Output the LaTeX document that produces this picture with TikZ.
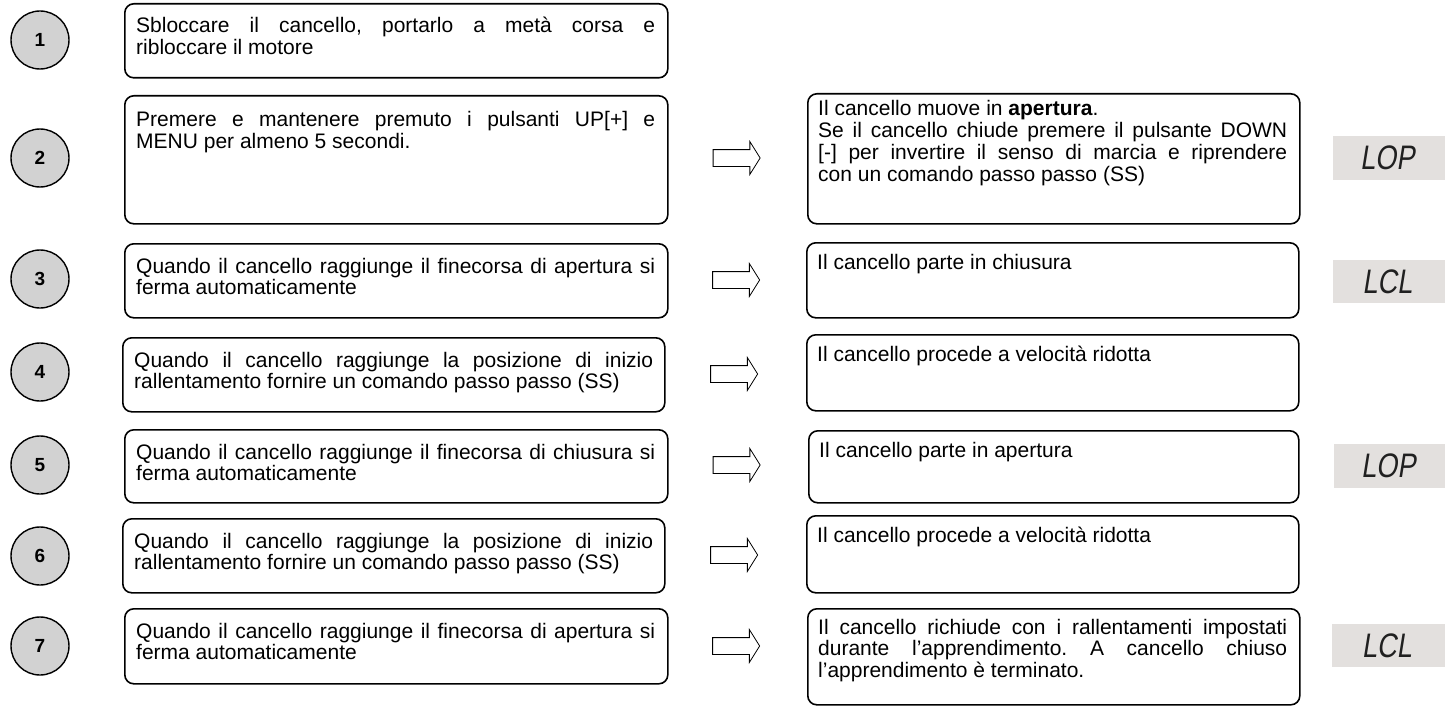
\documentclass[tikz,border=0pt]{standalone}
\usepackage{fontspec}
\setmainfont{Liberation Sans}
\newfontfamily\segfont{Liberation Sans}[FakeSlant=0.2]
\usetikzlibrary{shapes.arrows}
\definecolor{circfill}{HTML}{D2D2D2}
\definecolor{dispbg}{HTML}{E3E0DE}
\definecolor{segcol}{HTML}{202020}
\frenchspacing
\tikzset{
  stepbox/.style={draw, line width=1.6pt, rounded corners=9pt, inner sep=0pt, anchor=north west},
  numcirc/.style={circle, draw, line width=1.4pt, fill=circfill, minimum size=58pt, inner sep=0pt,
     font=\fontsize{19}{19}\selectfont\bfseries},
  ltxt/.style={anchor=base west, inner sep=0pt, text width=519pt, align=justify,
     font=\fontsize{21}{21.7}\selectfont\frenchspacing},
  rtxt/.style={anchor=base west, inner sep=0pt, text width=469pt, align=justify,
     font=\fontsize{21}{21.7}\selectfont\frenchspacing},
  blockarrow/.style={single arrow, draw, fill=white, line width=0.8pt, minimum height=47pt,
     inner xsep=0pt, inner ysep=8pt, single arrow head extend=8pt, single arrow tip angle=116,
     single arrow head indent=0pt},
  disp/.style={fill=dispbg, draw=none, inner sep=0pt, anchor=north west},
  segtxt/.style={inner sep=0pt, text=segcol, font=\fontsize{34}{34}\segfont}
}
\begin{document}
\begin{tikzpicture}[x=1pt,y=-1pt]
\useasboundingbox (0,0) rectangle (1445,706);
% circles
\node[numcirc] (c1) at (40,40) {1};
\node[numcirc] (c2) at (40,158) {2};
\node[numcirc] (c3) at (40,279) {3};
\node[numcirc] (c4) at (40,372) {4};
\node[numcirc] (c5) at (40,465) {5};
\node[numcirc] (c6) at (40,556) {6};
\node[numcirc] (c7) at (40,646) {7};
% left boxes
\node[stepbox, minimum width=543pt, minimum height=74pt] (b1) at (124,3) {};
\node[stepbox, minimum width=543pt, minimum height=128pt] (b2) at (124,95) {};
\node[stepbox, minimum width=543pt, minimum height=74pt] (b3) at (124,243) {};
\node[stepbox, minimum width=542pt, minimum height=74pt] (b4) at (122,337) {};
\node[stepbox, minimum width=543pt, minimum height=73pt] (b5) at (124,429) {};
\node[stepbox, minimum width=542pt, minimum height=74pt] (b6) at (122,518) {};
\node[stepbox, minimum width=543pt, minimum height=75pt] (b7) at (124,608) {};
\node[ltxt] (t1) at ([xshift=12pt,yshift=-30pt]b1.north west) {Sbloccare il cancello, portarlo a metà corsa e\linebreak{} ribloccare il motore};
\node[ltxt] (t2) at ([xshift=12pt,yshift=-32pt]b2.north west) {Premere e mantenere premuto i pulsanti UP[+] e\linebreak{} MENU per almeno 5 secondi.};
\node[ltxt] (t3) at ([xshift=12pt,yshift=-30pt]b3.north west) {Quando il cancello raggiunge il finecorsa di apertura si\linebreak{} ferma automaticamente};
\node[ltxt] (t4) at ([xshift=12pt,yshift=-30pt]b4.north west) {Quando il cancello raggiunge la posizione di inizio\linebreak{} rallentamento fornire un comando passo passo (SS)};
\node[ltxt] (t5) at ([xshift=12pt,yshift=-30pt]b5.north west) {Quando il cancello raggiunge il finecorsa di chiusura si\linebreak{} ferma automaticamente};
\node[ltxt] (t6) at ([xshift=12pt,yshift=-30pt]b6.north west) {Quando il cancello raggiunge la posizione di inizio\linebreak{} rallentamento fornire un comando passo passo (SS)};
\node[ltxt] (t7) at ([xshift=12pt,yshift=-30pt]b7.north west) {Quando il cancello raggiunge il finecorsa di apertura si\linebreak{} ferma automaticamente};
% arrows
\node[blockarrow] (a2) at (734,158) {};
\node[blockarrow] (a3) at (733.5,280) {};
\node[blockarrow] (a4) at (731.5,374) {};
\node[blockarrow] (a5) at (734,465) {};
\node[blockarrow] (a6) at (731.5,555) {};
\node[blockarrow] (a7) at (733.5,646) {};
% right boxes
\node[stepbox, minimum width=492pt, minimum height=130pt] (r2) at (807,93) {};
\node[stepbox, minimum width=492pt, minimum height=75pt] (r3) at (806,242) {};
\node[stepbox, minimum width=492pt, minimum height=76pt] (r4) at (806,334) {};
\node[stepbox, minimum width=490pt, minimum height=72pt] (r5) at (808,430) {};
\node[stepbox, minimum width=492pt, minimum height=77pt] (r6) at (806,515) {};
\node[stepbox, minimum width=492pt, minimum height=96pt] (r7) at (807,608) {};
\node[rtxt] (s2) at ([xshift=11pt,yshift=-23pt]r2.north west) {Il cancello muove in \textbf{apertura}.\\ Se il cancello chiude premere il pulsante DOWN\linebreak{} {[-]} per invertire il senso di marcia e riprendere\linebreak{} con un comando passo passo (SS)};
\node[rtxt] (s3) at ([xshift=11pt,yshift=-27pt]r3.north west) {Il cancello parte in chiusura};
\node[rtxt] (s4) at ([xshift=11pt,yshift=-27pt]r4.north west) {Il cancello procede a velocità ridotta};
\node[rtxt] (s5) at ([xshift=11pt,yshift=-27pt]r5.north west) {Il cancello parte in apertura};
\node[rtxt] (s6) at ([xshift=11pt,yshift=-27pt]r6.north west) {Il cancello procede a velocità ridotta};
\node[rtxt] (s7) at ([xshift=11pt,yshift=-26pt]r7.north west) {Il cancello richiude con i rallentamenti impostati\linebreak{} durante l’apprendimento. A cancello chiuso\linebreak{} l’apprendimento è terminato.};
% displays
\node[disp, minimum width=112pt, minimum height=44pt] (d2) at (1333,136) {};
\node[disp, minimum width=112pt, minimum height=43pt] (d3) at (1333,260) {};
\node[disp, minimum width=112pt, minimum height=44pt] (d5) at (1334,444) {};
\node[disp, minimum width=113pt, minimum height=43pt] (d7) at (1332,624) {};
\node[segtxt] (l2) at ([xshift=-2pt]d2.center) {\scalebox{0.8}[1]{LOP}};
\node[segtxt] (l3) at ([xshift=-2pt]d3.center) {\scalebox{0.8}[1]{LCL}};
\node[segtxt] (l5) at ([xshift=-2pt]d5.center) {\scalebox{0.8}[1]{LOP}};
\node[segtxt] (l7) at ([xshift=-2pt]d7.center) {\scalebox{0.8}[1]{LCL}};
\end{tikzpicture}
\end{document}
